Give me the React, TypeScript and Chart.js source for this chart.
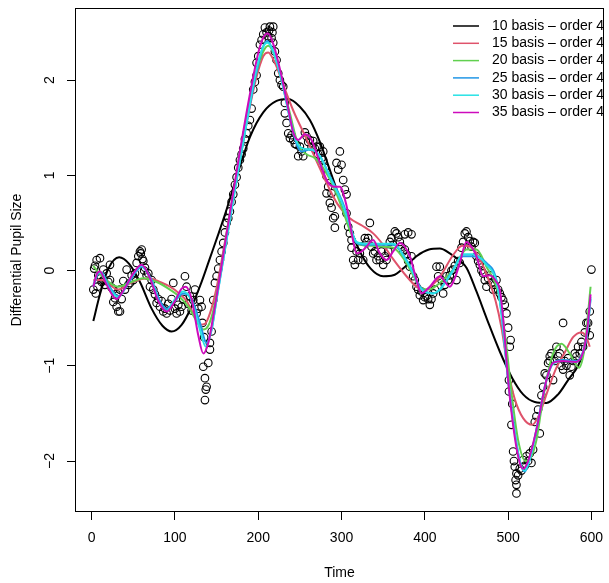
import React, { useEffect, useRef } from "react";
import { Chart, registerables } from "chart.js";

Chart.register(...registerables);

const X_TICKS = [0, 100, 200, 300, 400, 500, 600];
const Y_TICKS = [-2, -1, 0, 1, 2];
const X_TITLE = "Time";
const Y_TITLE = "Differential Pupil Size";

const SERIES_LABELS = [
  "10 basis \u2013 order 4",
  "15 basis \u2013 order 4",
  "20 basis \u2013 order 4",
  "25 basis \u2013 order 4",
  "30 basis \u2013 order 4",
  "35 basis \u2013 order 4",
];
const SERIES_COLORS = ["#000000", "#DF536B", "#61D04F", "#2297E6", "#28E2E5", "#CD0BBC"];

const OBS: [number, number][] = [
  [2,-0.2],[3,0.02],[4,0.05],[5,-0.24],[6,0.11],[7,-0.17],[8,-0.05],[10,0.13],[11,-0.08],[12,-0.12],[14,0.01],[14,-0.1],[16,-0.15],[18,-0.03],[20,-0.12],
  [22,0.06],[22,-0.1],[24,-0.18],[26,-0.2],[26,-0.33],[28,-0.29],[30,-0.38],[30,-0.25],[32,-0.43],[34,-0.43],[34,-0.2],[36,-0.3],[38,-0.11],[40,-0.2],[42,0.01],[44,-0.15],[46,-0.13],[48,-0.05],[50,-0.1],[52,-0.03],[54,0.08],[56,0.15],[58,0.2],[59,0.18],[60,0.22],[61,0.12],[62,0.1],[63,0.0],
  [64,0.03],[66,-0.05],[68,-0.03],[70,-0.17],[72,-0.1],[74,-0.2],[76,-0.25],[78,-0.34],[80,-0.3],[82,-0.38],[84,-0.32],[86,-0.43],[88,-0.4],[90,-0.45],[92,-0.35],[94,-0.42],[96,-0.3],[98,-0.13],[100,-0.4],
  [102,-0.45],[104,-0.36],[106,-0.43],[108,-0.38],[110,-0.3],[112,-0.06],[114,-0.17],[116,-0.35],[118,-0.27],[120,-0.42],[122,-0.31],[124,-0.2],[126,-0.45],[128,-0.4],[130,-0.31],[132,-0.38],[133,-0.55],[134,-1.01],[135,-0.7],[136,-1.13],[136,-1.36],[137,-1.25],[138,-1.22],[140,-0.97],[142,-0.76],[142,-0.83],[144,-0.64],[146,-0.31],[148,-0.13],[150,-0.06],
  [152,0.02],[154,0.11],[156,0.2],[158,0.29],[160,0.4],[162,0.5],[164,0.55],[166,0.62],[168,0.72],[170,0.8],[172,0.9],[174,0.98],[176,1.08],[178,1.16],[180,1.22],[182,1.28],[184,1.38],[186,1.44],[188,1.52],[190,1.58],[192,1.7],[194,1.9],[196,1.98],[198,2.05],[198,2.18],[200,2.25],[202,2.37],[204,2.42],[206,2.48],[208,2.55],[210,2.5],
  [212,2.46],[213,2.52],[214,2.56],[216,2.44],[217,2.5],[218,2.56],[218,2.39],[220,2.3],[222,2.21],[224,2.07],[226,2.0],[228,1.95],[230,1.93],[232,1.76],[232,1.65],[234,1.55],[236,1.44],[238,1.39],[240,1.42],
  [242,1.37],[244,1.33],[246,1.32],[248,1.2],[250,1.3],[252,1.25],[254,1.2],[256,1.45],[258,1.41],[260,1.35],[262,1.37],[264,1.3],[266,1.36],[268,1.28],[270,1.3],[272,1.22],[274,1.3],[276,1.18],[278,1.25],[278,1.16],[280,1.08],[282,0.99],[282,0.81],[284,0.88],[286,0.71],[288,0.66],[288,0.81],[290,0.55],[292,0.45],[292,0.57],[294,1.13],[296,1.06],[298,1.25],[300,1.11],[302,0.95],[304,0.85],[306,0.8],[306,0.6],[308,0.46],[310,0.39],
  [312,0.32],[312,0.24],[314,0.11],[316,0.06],[318,0.2],[320,0.11],[322,0.18],[324,0.25],[326,0.11],[328,0.34],[330,0.3],[332,0.34],[334,0.5],[336,0.25],[338,0.18],[340,0.2],[342,0.11],[344,0.15],[346,0.11],[348,0.2],[350,0.06],[352,0.15],[354,0.11],[356,0.2],[358,0.3],[360,0.34],[362,0.27],[364,0.41],[366,0.39],[368,0.35],[370,0.3],[372,0.25],[374,0.2],[376,0.22],[376,0.38],[378,0.17],[380,0.1],[380,0.4],[382,0.04],[384,0.15],[384,0.38],[386,-0.06],[388,-0.1],[390,-0.17],[392,-0.2],[394,-0.26],[396,-0.22],[398,-0.31],[400,-0.28],
  [402,-0.27],[404,-0.3],[406,-0.36],[408,-0.3],[410,-0.24],[412,-0.2],[414,0.04],[416,-0.06],[418,0.04],[420,-0.1],[422,-0.24],[424,-0.15],[426,-0.06],[428,-0.1],[430,-0.05],[432,0.0],[434,0.01],[436,0.05],[438,-0.1],[440,0.1],[442,0.08],[444,0.24],[446,0.3],[448,0.39],[450,0.41],[452,0.35],[454,0.31],[456,0.25],[458,0.3],[460,0.29],[462,0.15],[464,0.1],[466,0.06],[468,0.0],[470,-0.03],[472,-0.1],[474,-0.17],[476,-0.08],[478,-0.05],[480,-0.13],[482,-0.2],[484,-0.15],[486,-0.1],[488,-0.2],[490,-0.24],[492,-0.28],[494,-0.31],[496,-0.36],[498,-0.45],[500,-0.6],
  [501,-1.15],[501,-1.27],[502,-0.8],[503,-0.73],[504,-1.62],[505,-1.4],[506,-1.9],[507,-2.0],[508,-2.06],[509,-2.2],[510,-2.13],[510,-2.25],[510,-2.34],[512,-2.15],[514,-2.08],[516,-2.1],[518,-1.99],[520,-2.05],[522,-1.95],[524,-2.0],[526,-1.92],[528,-2.02],[530,-1.88],[532,-1.59],[534,-1.53],[536,-1.46],[538,-1.71],[540,-1.31],[542,-1.22],[544,-1.08],[546,-1.1],[548,-0.97],[550,-0.9],[550,-0.95],[552,-0.87],[554,-1.15],[556,-0.95],[558,-0.8],[560,-0.9],[562,-0.87],[564,-1.0],[566,-1.04],[566,-0.55],[568,-0.95],[570,-1.0],[572,-0.92],[574,-1.1],[576,-1.01],[578,-0.95],[580,-0.87],[582,-0.9],[584,-0.8],[586,-0.87],[588,-0.75],[590,-0.8],[592,-0.65],[594,-0.55],[596,-0.55],[598,-0.43],[598,-0.68],[600,0.01],
];

const FIT10: [number, number][] = [
  [2,-0.53],[10,-0.25],[20,0.02],[33,0.14],[45,0.07],[58,-0.12],[72,-0.4],[85,-0.58],[96,-0.64],[108,-0.57],[120,-0.38],[132,-0.12],[142,0.13],[152,0.38],[162,0.64],[174,0.98],[190,1.4],[206,1.66],[222,1.78],[236,1.8],[250,1.72],[262,1.58],[274,1.35],[285,1.08],[297,0.78],[310,0.45],[322,0.2],[335,0.02],[350,-0.06],[362,-0.05],[375,0.03],[390,0.15],[405,0.22],[418,0.23],[430,0.18],[442,0.1],[450,0.03],[462,-0.22],[475,-0.52],[490,-0.85],[505,-1.13],[518,-1.3],[532,-1.38],[546,-1.39],[560,-1.3],[572,-1.15],[584,-1.0],[592,-0.82],[598,-0.6],
];
const FIT15: [number, number][] = [
  [2,-0.1],[12,-0.1],[20,-0.14],[32,-0.2],[45,-0.14],[60,-0.09],[70,-0.08],[82,-0.12],[94,-0.17],[105,-0.24],[114,-0.32],[123,-0.47],[130,-0.57],[136,-0.56],[142,-0.45],[150,-0.18],[160,0.3],[172,0.88],[185,1.5],[197,2.0],[206,2.25],[212,2.29],[220,2.18],[230,1.95],[242,1.68],[258,1.38],[270,1.15],[282,0.92],[295,0.7],[310,0.55],[325,0.47],[338,0.39],[350,0.27],[362,0.12],[378,-0.06],[390,-0.17],[398,-0.21],[408,-0.16],[420,-0.04],[433,0.15],[445,0.26],[455,0.25],[465,0.14],[475,-0.06],[485,-0.32],[492,-0.6],[500,-1.05],[508,-1.35],[518,-1.55],[529,-1.62],[538,-1.5],[548,-1.25],[558,-1.02],[568,-0.86],[578,-0.7],[588,-0.65],[594,-0.7],[598,-0.8],
];
const FIT20: [number, number][] = [
  [2,0.05],[8,-0.02],[14,-0.07],[22,-0.13],[32,-0.17],[45,-0.13],[62,-0.08],[78,-0.12],[94,-0.2],[106,-0.28],[116,-0.38],[126,-0.53],[134,-0.62],[140,-0.58],[146,-0.42],[154,-0.05],[164,0.5],[176,1.1],[188,1.7],[200,2.15],[206,2.3],[212,2.36],[220,2.25],[228,2.0],[238,1.65],[248,1.32],[258,1.22],[268,1.18],[280,1.05],[292,0.85],[302,0.62],[312,0.38],[322,0.27],[337,0.26],[350,0.25],[362,0.24],[375,0.12],[386,-0.05],[394,-0.17],[405,-0.2],[418,-0.13],[434,0.01],[450,0.22],[462,0.22],[474,0.04],[486,-0.17],[492,-0.4],[498,-0.8],[505,-1.35],[512,-1.78],[521,-2.0],[528,-1.95],[534,-1.78],[540,-1.45],[546,-1.15],[554,-0.87],[564,-0.77],[574,-0.87],[585,-1.02],[592,-0.8],[596,-0.45],[599,-0.17],
];
const FIT25: [number, number][] = [
  [2,-0.17],[8,-0.03],[12,-0.02],[20,-0.15],[32,-0.27],[45,-0.12],[60,0.04],[72,-0.1],[82,-0.32],[90,-0.4],[100,-0.32],[110,-0.24],[120,-0.3],[130,-0.55],[138,-0.76],[144,-0.62],[150,-0.3],[160,0.22],[172,0.85],[185,1.5],[197,2.05],[205,2.33],[211,2.41],[218,2.3],[228,2.0],[238,1.6],[246,1.33],[252,1.25],[262,1.27],[274,1.2],[286,0.99],[302,0.7],[310,0.48],[318,0.29],[330,0.27],[345,0.27],[362,0.27],[378,0.11],[386,-0.02],[394,-0.17],[410,-0.24],[418,-0.2],[432,-0.02],[446,0.15],[458,0.15],[474,0.08],[486,-0.1],[492,-0.45],[500,-1.15],[508,-1.7],[514,-2.0],[520,-2.11],[527,-1.95],[534,-1.67],[546,-1.15],[554,-0.97],[566,-0.94],[582,-0.95],[590,-0.85],[595,-0.65],[599,-0.3],
];
const FIT30: [number, number][] = [
  [2,-0.15],[8,-0.02],[12,-0.03],[20,-0.17],[32,-0.28],[45,-0.1],[60,0.05],[72,-0.12],[82,-0.35],[90,-0.42],[100,-0.3],[110,-0.22],[120,-0.32],[130,-0.62],[137,-0.8],[144,-0.62],[150,-0.3],[160,0.22],[172,0.85],[185,1.5],[197,2.08],[205,2.33],[211,2.39],[218,2.3],[228,2.0],[238,1.6],[246,1.35],[254,1.28],[264,1.27],[274,1.2],[286,0.98],[300,0.72],[310,0.47],[318,0.3],[330,0.28],[345,0.28],[362,0.28],[378,0.1],[386,-0.03],[394,-0.18],[410,-0.24],[418,-0.2],[432,-0.03],[446,0.17],[458,0.17],[474,0.06],[486,-0.12],[492,-0.45],[500,-1.15],[508,-1.7],[514,-2.0],[520,-2.1],[527,-1.95],[534,-1.67],[546,-1.15],[554,-0.98],[566,-0.95],[582,-0.96],[590,-0.86],[595,-0.65],[599,-0.28],
];
const FIT35: [number, number][] = [
  [2,-0.17],[6,-0.04],[10,-0.01],[18,-0.15],[30,-0.3],[40,-0.18],[50,-0.03],[60,0.06],[70,-0.08],[80,-0.32],[90,-0.43],[100,-0.32],[108,-0.19],[113,-0.17],[120,-0.3],[128,-0.68],[134,-0.87],[140,-0.76],[146,-0.48],[155,0.0],[165,0.55],[177,1.2],[190,1.85],[202,2.35],[211,2.49],[218,2.38],[228,2.04],[236,1.7],[242,1.45],[248,1.37],[256,1.43],[264,1.37],[274,1.13],[284,0.92],[292,0.88],[298,0.88],[306,0.68],[312,0.4],[318,0.18],[324,0.2],[330,0.25],[338,0.32],[346,0.18],[354,0.11],[362,0.2],[370,0.29],[382,0.15],[390,-0.1],[396,-0.24],[406,-0.17],[418,-0.06],[430,-0.17],[436,-0.08],[442,0.08],[450,0.3],[456,0.25],[462,0.15],[470,-0.06],[478,-0.05],[486,-0.12],[490,-0.2],[494,-0.5],[500,-1.15],[508,-1.75],[514,-2.02],[518,-2.08],[524,-2.0],[534,-1.67],[546,-1.15],[554,-0.97],[566,-0.95],[581,-0.96],[590,-0.86],[595,-0.62],[599,-0.25],
];

const FITS = [FIT10, FIT15, FIT20, FIT25, FIT30, FIT35];

const FONT = '"Liberation Sans", Arial, Helvetica, sans-serif';
const FS = 14;

const rPlugin = {
  id: "rstyle",
  afterDatasetsDraw(chart: any) {
    const { ctx, chartArea: a } = chart;
    ctx.save();
    ctx.strokeStyle = "#000";
    ctx.lineWidth = 1;
    ctx.strokeRect(Math.round(a.left) + 0.5, Math.round(a.top) + 0.5, Math.round(a.right - a.left) - 1, Math.round(a.bottom - a.top) - 1);
    ctx.restore();
  },
  afterDraw(chart: any) {
    const { ctx, chartArea: a, scales } = chart;
    const xs = scales.x;
    const ys = scales.y;
    ctx.save();
    ctx.fillStyle = "#000";
    ctx.font = `${FS}px ${FONT}`;
    ctx.textAlign = "center";
    ctx.textBaseline = "middle";
    X_TICKS.forEach((v) => {
      ctx.fillText(String(v), xs.getPixelForValue(v), 538);
    });
    ctx.fillText(X_TITLE, (a.left + a.right) / 2, 573);
    Y_TICKS.forEach((v) => {
      const py = ys.getPixelForValue(v);
      ctx.save();
      ctx.translate(50, py);
      ctx.rotate(-Math.PI / 2);
      ctx.fillText(v < 0 ? "\u2212" + Math.abs(v) : String(v), 0, 0);
      ctx.restore();
    });
    ctx.save();
    ctx.translate(17, (a.top + a.bottom) / 2);
    ctx.rotate(-Math.PI / 2);
    ctx.fillText(Y_TITLE, 0, 0);
    ctx.restore();
    ctx.textAlign = "left";
    SERIES_LABELS.forEach((lab, i) => {
      const y = 26 + i * 17.3;
      ctx.strokeStyle = SERIES_COLORS[i];
      ctx.lineWidth = 1.5;
      ctx.beginPath();
      ctx.moveTo(453, y);
      ctx.lineTo(479, y);
      ctx.stroke();
      ctx.fillText(lab, 492, y);
    });
    ctx.restore();
  },
};

export default function App() {
  const ref = useRef<HTMLCanvasElement | null>(null);
  useEffect(() => {
    document.body.style.margin = "0";
    const canvas = ref.current;
    if (!canvas) return;
    const fitSets = FITS.map((pts, i) => ({
      label: SERIES_LABELS[i],
      data: pts.map(([x, y]) => ({ x, y })),
      borderColor: SERIES_COLORS[i],
      backgroundColor: SERIES_COLORS[i],
      borderWidth: 2,
      pointRadius: 0,
      fill: false,
      showLine: true,
      cubicInterpolationMode: "monotone" as const,
      order: 6 - i,
    }));
    const chart = new Chart(canvas, {
      type: "line",
      data: {
        datasets: [
          {
            label: "observed",
            data: OBS.map(([x, y]) => ({ x, y })),
            showLine: false,
            pointRadius: 3.8,
            pointBorderWidth: 1.1,
            pointBorderColor: "#000",
            pointBackgroundColor: "rgba(0,0,0,0)",
            pointStyle: "circle",
            order: 10,
          },
          ...fitSets,
        ],
      },
      options: {
        responsive: false,
        animation: false,
        devicePixelRatio: 1,
        layout: { padding: { top: 8, right: 5, left: 0, bottom: 0 } },
        plugins: { legend: { display: false }, tooltip: { enabled: false } },
        scales: {
          x: {
            type: "linear",
            min: -20,
            max: 615,
            afterBuildTicks: (s: any) => {
              s.ticks = X_TICKS.map((v) => ({ value: v }));
            },
            afterFit: (s: any) => {
              s.height = 71;
            },
            ticks: { display: false },
            border: { display: false },
            grid: { drawOnChartArea: false, drawTicks: true, tickLength: 8, color: "#000", lineWidth: 1 },
          },
          y: {
            type: "linear",
            min: -2.535,
            max: 2.756,
            afterBuildTicks: (s: any) => {
              s.ticks = Y_TICKS.map((v) => ({ value: v }));
            },
            afterFit: (s: any) => {
              s.width = 75;
            },
            ticks: { display: false },
            border: { display: false },
            grid: { drawOnChartArea: false, drawTicks: true, tickLength: 8, color: "#000", lineWidth: 1 },
          },
        },
      },
      plugins: [rPlugin],
    });
    return () => chart.destroy();
  }, []);
  return (
    <div style={{ position: "fixed", left: 0, top: 0, width: 609, height: 583, background: "#fff" }}>
      <canvas ref={ref} width={609} height={583} style={{ width: 609, height: 583, display: "block" }} />
    </div>
  );
}
